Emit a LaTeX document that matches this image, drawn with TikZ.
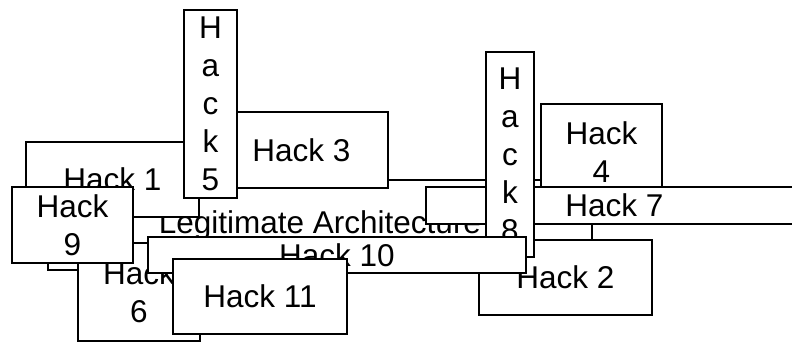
\documentclass[tikz,border=0pt]{standalone}
\usepackage{fontspec}
\setmainfont{Liberation Sans}
\begin{document}
\begin{tikzpicture}[x=1pt,y=-1pt,
  box/.style={draw=black, fill=white, line width=1.3pt, inner sep=0pt, align=center,
    font=\fontsize{31.5}{38}\selectfont},
]
\useasboundingbox (0,0) rectangle (792,342);
\clip (0,0) rectangle (792,342);
\node[box, minimum width=544, minimum height=90] (leg) at (320,225) {Legitimate Architecture};
\node[box, minimum width=173, minimum height=75] (h1) at (112.5,179.5) {Hack 1};
\node[box, minimum width=173, minimum height=76] (h3) at (301.5,150) {Hack 3};
\node[box, minimum width=53, minimum height=188] (h5) at (210.5,104) {H\\a\\c\\k\\5};
\node[box, minimum width=121, minimum height=96] (h4) at (601.5,152) {Hack\\4};
\node[box, minimum width=377, minimum height=37] (h7) at (614.5,205.5) {Hack 7};
\node[box, minimum width=173, minimum height=75] (h2) at (565.5,277.5) {Hack 2};
\node[box, minimum width=48, minimum height=205] (h8) at (510,154.5) {H\\a\\c\\k\\8};
\node[box, minimum width=122, minimum height=98] (h6) at (139,292) {Hack\\6};
\node[box, minimum width=121, minimum height=76] (h9) at (72.5,225) {Hack\\9};
\node[box, minimum width=378, minimum height=36] (h10) at (337,255) {Hack 10};
\node[box, minimum width=174, minimum height=75] (h11) at (260,296.5) {Hack 11};
\end{tikzpicture}
\end{document}
